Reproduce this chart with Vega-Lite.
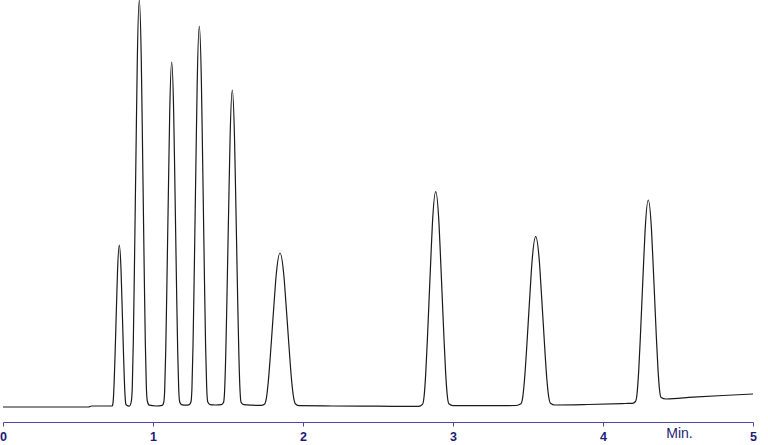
{
  "$schema": "https://vega.github.io/schema/vega-lite/v6.json",
  "width": 750,
  "height": 422,
  "autosize": {"type": "none"},
  "padding": {"left": 3, "top": 0, "right": 15, "bottom": 23},
  "background": "white",
  "config": {"view": {"stroke": null}},
  "data": {"values": [
    {"t":0,"v":0},{"t":0.57,"v":0},{"t":0.59,"v":1},{"t":0.725,"v":1},
    {"t":0.73,"v":1.6},{"t":0.7357,"v":8.1},{"t":0.7413,"v":25.9},{"t":0.747,"v":51.8},{"t":0.7527,"v":81},{"t":0.7583,"v":110.2},{"t":0.764,"v":137.7},{"t":0.7753,"v":162},{"t":0.7867,"v":137.7},{"t":0.7923,"v":110.2},{"t":0.798,"v":81},{"t":0.8037,"v":51.8},{"t":0.8093,"v":25.9},{"t":0.815,"v":8.1},{"t":0.8207,"v":2.2},
    {"t":0.842,"v":0.8},
    {"t":0.8553,"v":5.5},{"t":0.862,"v":20.4},{"t":0.8687,"v":65.1},{"t":0.8753,"v":130.2},{"t":0.882,"v":203.5},{"t":0.8887,"v":276.8},{"t":0.8953,"v":346},{"t":0.9087,"v":407},{"t":0.922,"v":346},{"t":0.9287,"v":276.8},{"t":0.9353,"v":203.5},{"t":0.942,"v":130.2},{"t":0.9487,"v":65.1},{"t":0.9553,"v":22},{"t":0.962,"v":6},
    {"t":0.975,"v":1.8},{"t":1.02,"v":1},{"t":1.062,"v":1.6},
    {"t":1.0713,"v":4.5},{"t":1.078,"v":17.3},{"t":1.0847,"v":55.2},{"t":1.0913,"v":110.4},{"t":1.098,"v":172.5},{"t":1.1047,"v":234.6},{"t":1.1113,"v":293.3},{"t":1.1247,"v":345},{"t":1.138,"v":293.3},{"t":1.1447,"v":234.6},{"t":1.1513,"v":172.5},{"t":1.158,"v":110.4},{"t":1.1647,"v":55.2},{"t":1.1713,"v":18.5},{"t":1.178,"v":5},
    {"t":1.19,"v":2.4},{"t":1.2167,"v":1.8},{"t":1.242,"v":2.4},
    {"t":1.2527,"v":5},{"t":1.2597,"v":19.1},{"t":1.2667,"v":61},{"t":1.2737,"v":121.9},{"t":1.2807,"v":190.5},{"t":1.2877,"v":259.1},{"t":1.2947,"v":323.9},{"t":1.3087,"v":381},{"t":1.3227,"v":323.9},{"t":1.3297,"v":259.1},{"t":1.3367,"v":190.5},{"t":1.3437,"v":121.9},{"t":1.3507,"v":61},{"t":1.3577,"v":20.5},{"t":1.3647,"v":5.2},
    {"t":1.38,"v":2.4},{"t":1.4167,"v":2},{"t":1.455,"v":2.4},
    {"t":1.47,"v":4.5},{"t":1.4773,"v":15.9},{"t":1.4847,"v":50.7},{"t":1.492,"v":101.4},{"t":1.4993,"v":158.5},{"t":1.5067,"v":215.6},{"t":1.514,"v":269.5},{"t":1.5287,"v":317},{"t":1.5433,"v":269.5},{"t":1.5507,"v":215.6},{"t":1.558,"v":158.5},{"t":1.5653,"v":101.4},{"t":1.5727,"v":50.7},{"t":1.58,"v":17},{"t":1.5873,"v":4.6},
    {"t":1.605,"v":2.3},{"t":1.66,"v":1.8},{"t":1.72,"v":1.6},
    {"t":1.7427,"v":2.8},{"t":1.7557,"v":8.7},{"t":1.7687,"v":25.5},{"t":1.7817,"v":50},{"t":1.7947,"v":77.5},{"t":1.8077,"v":105},{"t":1.8207,"v":131},{"t":1.8467,"v":154},{"t":1.8727,"v":131},{"t":1.8857,"v":105},{"t":1.8987,"v":77.5},{"t":1.9117,"v":50},{"t":1.9247,"v":25.5},{"t":1.9377,"v":9.2},{"t":1.9507,"v":3},
    {"t":1.975,"v":1.3},{"t":2.2,"v":1},{"t":2.5,"v":0.8},{"t":2.77,"v":0.6},
    {"t":2.7967,"v":2.6},{"t":2.8077,"v":11.2},{"t":2.8187,"v":34.9},{"t":2.8297,"v":69.2},{"t":2.8407,"v":107.9},{"t":2.8517,"v":146.6},{"t":2.8627,"v":183.1},{"t":2.8847,"v":215.3},{"t":2.9067,"v":183.1},{"t":2.9177,"v":146.6},{"t":2.9287,"v":107.9},{"t":2.9397,"v":69.2},{"t":2.9507,"v":34.9},{"t":2.9617,"v":11.8},{"t":2.9727,"v":3.2},
    {"t":3.0,"v":1.3},{"t":3.2,"v":1.3},{"t":3.42,"v":1.5},
    {"t":3.4527,"v":3.2},{"t":3.465,"v":9.9},{"t":3.4773,"v":28.5},{"t":3.4897,"v":55.5},{"t":3.502,"v":85.9},{"t":3.5143,"v":116.3},{"t":3.5267,"v":145},{"t":3.5513,"v":170.3},{"t":3.576,"v":145},{"t":3.5883,"v":116.3},{"t":3.6007,"v":85.9},{"t":3.613,"v":55.5},{"t":3.6253,"v":28.5},{"t":3.6377,"v":10.5},{"t":3.65,"v":3.8},
    {"t":3.68,"v":2},{"t":3.9,"v":2.5},{"t":4.15,"v":3.5},{"t":4.195,"v":3.7},
    {"t":4.2167,"v":5.5},{"t":4.2273,"v":13.7},{"t":4.238,"v":36.1},{"t":4.2487,"v":68.6},{"t":4.2593,"v":105.3},{"t":4.27,"v":141.9},{"t":4.2807,"v":176.5},{"t":4.302,"v":207},{"t":4.3233,"v":177.1},{"t":4.334,"v":143.2},{"t":4.3447,"v":107.3},{"t":4.3553,"v":71.3},{"t":4.366,"v":39.4},{"t":4.3767,"v":17.5},{"t":4.3873,"v":9.5},
    {"t":4.42,"v":8},{"t":4.6,"v":9.8},{"t":4.8,"v":11.5},{"t":5.0,"v":13}
  ]},
  "mark": {"type": "line", "interpolate": "monotone", "color": "#1a1a1a", "strokeWidth": 1.2, "clip": false},
  "encoding": {
    "x": {
      "field": "t", "type": "quantitative",
      "scale": {"domain": [0, 5], "nice": false, "zero": false},
      "axis": {
        "values": [0, 1, 2, 3, 4, 5],
        "format": "d",
        "grid": false,
        "labelFlush": false,
        "labelOverlap": false,
        "domainColor": "#4a4aa6",
        "domainWidth": 1.2,
        "tickColor": "#4a4aa6",
        "tickSize": 4,
        "labelPadding": 4,
        "labelFont": "Liberation Sans",
        "labelFontSize": 12.5,
        "labelFontWeight": "bold",
        "labelColor": "#1c1c78",
        "title": "Min.",
        "titleFont": "Liberation Sans",
        "titleFontSize": 14,
        "titleFontWeight": "normal",
        "titleColor": "#1c1c78",
        "titleX": 676,
        "titleY": 11,
        "titleAlign": "center",
        "titleBaseline": "middle"
      }
    },
    "y": {
      "field": "v", "type": "quantitative",
      "scale": {"domain": [-15, 407], "nice": false, "zero": false},
      "axis": null
    }
  }
}
